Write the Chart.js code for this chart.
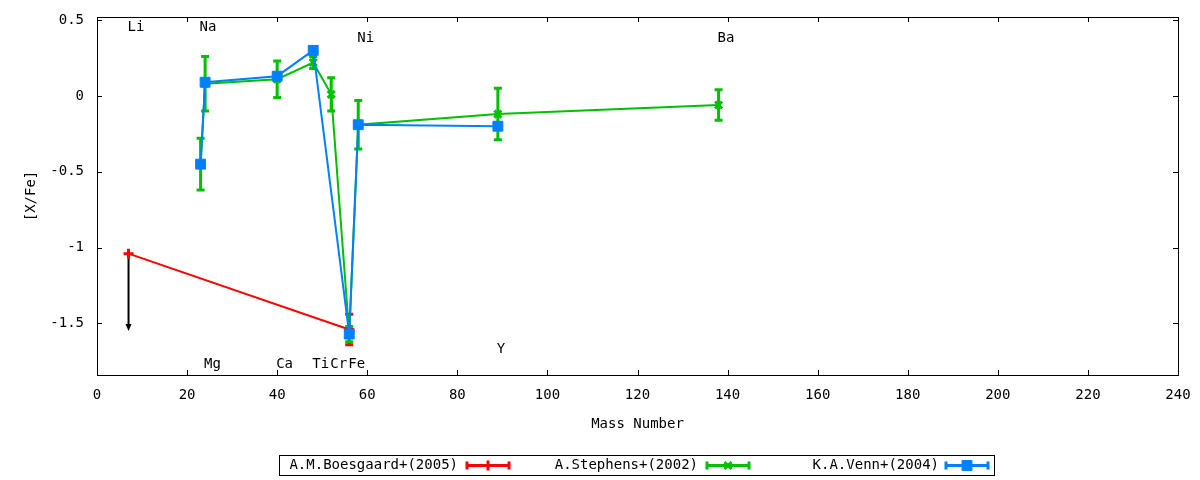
<!DOCTYPE html>
<html>
<head>
<meta charset="utf-8">
<script src="https://cdn.jsdelivr.net/npm/chart.js@4.4.1/dist/chart.umd.min.js"></script>
<style>
  html, body { margin: 0; padding: 0; background: #fff; }
  #box { width: 1200px; height: 480px; }
</style>
</head>
<body>
<div id="box"><canvas id="abund"></canvas></div>
<script>
// [X/Fe] against mass number, three studies
const boesMass = [7, 56];
const boesVal = [-1.04, -1.54];
const boesErr = [0, 0.10];

const stepMass = [23, 24, 40, 48, 52, 56, 58, 89, 138];
const stepVal = [-0.45, 0.08, 0.11, 0.22, 0.01, -1.57, -0.19, -0.12, -0.06];
const stepErr = [0.17, 0.18, 0.12, 0.04, 0.11, 0.05, 0.16, 0.17, 0.10];

const vennMass = [23, 24, 40, 48, 56, 58, 89];
const vennVal = [-0.45, 0.09, 0.13, 0.30, -1.57, -0.19, -0.20];

// Li upper limit arrow
const limitMass = [7];
const limitFrom = [-1.04];
const limitTo = [-1.55];

// element names drawn in the plot
const elemNames = ["Li", "Na", "Mg", "Ca", "Ti", "Cr", "Fe", "Ni", "Y", "Ba"];
const elemMass = [7, 23, 24, 40, 48, 52, 56, 58, 89, 138];
const elemY = [0.45, 0.45, -1.77, -1.77, -1.77, -1.77, -1.77, 0.38, -1.67, 0.38];

const xTicks = [0, 20, 40, 60, 80, 100, 120, 140, 160, 180, 200, 220, 240];
const yTicks = [-1.5, -1, -0.5, 0, 0.5];

const FONT = "'DejaVu Sans Mono', monospace";
Chart.defaults.font.family = FONT;
Chart.defaults.font.size = 14;
Chart.defaults.color = "#000";

function pts(xs, ys) {
    return xs.map(function (x, i) { return { x: x, y: ys[i] }; });
}

// error bars, drawn under the lines
const errorBars = {
    id: "errorBars",
    beforeDatasetsDraw: function (chart) {
        const ctx = chart.ctx;
        const xs = chart.scales.x, ys = chart.scales.y;
        ctx.save();
        // upper limit arrow
        ctx.strokeStyle = "#000";
        ctx.fillStyle = "#000";
        ctx.lineWidth = 2;
        limitMass.forEach(function (m, i) {
            const px = xs.getPixelForValue(m);
            const y1 = ys.getPixelForValue(limitFrom[i]);
            const y2 = ys.getPixelForValue(limitTo[i]);
            ctx.beginPath();
            ctx.moveTo(px, y1);
            ctx.lineTo(px, y2 - 5);
            ctx.stroke();
            ctx.beginPath();
            ctx.moveTo(px - 3, y2 - 7);
            ctx.lineTo(px + 3, y2 - 7);
            ctx.lineTo(px, y2);
            ctx.closePath();
            ctx.fill();
        });
        chart.data.datasets.forEach(function (ds) {
            if (!ds.errs) return;
            ctx.strokeStyle = ds.borderColor;
            ctx.lineWidth = 3;
            ds.data.forEach(function (p, i) {
                const e = ds.errs[i];
                if (!e) return;
                const px = xs.getPixelForValue(p.x);
                const t = ys.getPixelForValue(p.y + e);
                const b = ys.getPixelForValue(p.y - e);
                ctx.beginPath();
                ctx.moveTo(px, t); ctx.lineTo(px, b);
                ctx.moveTo(px - 4, t); ctx.lineTo(px + 4, t);
                ctx.moveTo(px - 4, b); ctx.lineTo(px + 4, b);
                ctx.stroke();
            });
        });
        ctx.restore();
    }
};

// frame, inward ticks, element names and key
const decor = {
    id: "decor",
    afterDraw: function (chart) {
        const ctx = chart.ctx;
        const a = chart.chartArea;
        const xs = chart.scales.x, ys = chart.scales.y;
        ctx.save();
        ctx.strokeStyle = "#000";
        ctx.lineWidth = 1;
        ctx.strokeRect(Math.round(a.left) + 0.5, Math.round(a.top) + 0.5,
            Math.round(a.right - a.left), Math.round(a.bottom - a.top));
        ctx.beginPath();
        xTicks.forEach(function (v) {
            const px = Math.round(xs.getPixelForValue(v)) + 0.5;
            ctx.moveTo(px, a.bottom); ctx.lineTo(px, a.bottom - 5);
            ctx.moveTo(px, a.top); ctx.lineTo(px, a.top + 5);
        });
        yTicks.forEach(function (v) {
            const py = Math.round(ys.getPixelForValue(v)) + 0.5;
            ctx.moveTo(a.left, py); ctx.lineTo(a.left + 5, py);
            ctx.moveTo(a.right, py); ctx.lineTo(a.right - 5, py);
        });
        ctx.stroke();

        ctx.fillStyle = "#000";
        ctx.font = "14px " + FONT;
        ctx.textAlign = "left";
        ctx.textBaseline = "middle";
        elemNames.forEach(function (n, i) {
            ctx.fillText(n, xs.getPixelForValue(elemMass[i]) - 1, ys.getPixelForValue(elemY[i]));
        });

        // key box
        ctx.strokeRect(279.5, 455.5, 715, 20);
        const keyText = [458, 698, 939];
        const keyLine = [466, 706, 945];
        chart.data.datasets.forEach(function (ds, i) {
            const y = 465.5;
            ctx.fillStyle = "#000";
            ctx.textAlign = "right";
            ctx.fillText(ds.label, keyText[i], y);
            const x0 = keyLine[i], x1 = x0 + 44;
            ctx.strokeStyle = ds.borderColor;
            ctx.fillStyle = ds.backgroundColor;
            ctx.lineWidth = 3;
            ctx.beginPath();
            ctx.moveTo(x0, y); ctx.lineTo(x1, y);
            ctx.moveTo(x0 + 1, y - 4); ctx.lineTo(x0 + 1, y + 4);
            ctx.moveTo(x1 - 1, y - 4); ctx.lineTo(x1 - 1, y + 4);
            ctx.stroke();
            ctx.lineWidth = ds.pointBorderWidth;
            Chart.helpers.drawPoint(ctx, {
                pointStyle: ds.pointStyle, radius: ds.pointRadius,
                borderWidth: ds.pointBorderWidth, rotation: 0
            }, (x0 + x1) / 2, y);
        });
        ctx.restore();
    }
};

new Chart("abund", {
    type: "scatter",
    data: {
        datasets: [
            {
                label: "A.M.Boesgaard+(2005)",
                data: pts(boesMass, boesVal),
                errs: boesErr,
                showLine: true,
                borderColor: "#ff0000",
                backgroundColor: "#ff0000",
                borderWidth: 2,
                pointStyle: "cross",
                pointRadius: 5,
                pointBorderWidth: 3,
                order: 3
            },
            {
                label: "A.Stephens+(2002)",
                data: pts(stepMass, stepVal),
                errs: stepErr,
                showLine: true,
                borderColor: "#00c000",
                backgroundColor: "#00c000",
                borderWidth: 2,
                pointStyle: "crossRot",
                pointRadius: 5,
                pointBorderWidth: 3,
                order: 2
            },
            {
                label: "K.A.Venn+(2004)",
                data: pts(vennMass, vennVal),
                showLine: true,
                borderColor: "#0080ff",
                backgroundColor: "#0080ff",
                borderWidth: 2,
                pointStyle: "rect",
                pointRadius: 7,
                pointBorderWidth: 1,
                order: 1
            }
        ]
    },
    options: {
        responsive: true,
        maintainAspectRatio: false,
        animation: false,
        layout: { padding: { left: 0, right: 22, top: 17, bottom: 0 } },
        plugins: {
            legend: { display: false },
            tooltip: { enabled: false }
        },
        scales: {
            x: {
                type: "linear",
                min: 0,
                max: 240,
                grid: { display: false, drawTicks: false, tickLength: 0 },
                border: { display: false },
                afterBuildTicks: function (s) { s.ticks = xTicks.map(function (v) { return { value: v }; }); },
                afterFit: function (s) {
                    s.height = 105;
                    s.paddingLeft = 0;
                    s.paddingRight = 0;
                },
                ticks: {
                    padding: 12,
                    maxRotation: 0,
                    autoSkip: false,
                    callback: function (v) { return String(v); }
                },
                title: {
                    display: true,
                    text: "Mass Number",
                    padding: { top: 0, bottom: 47 }
                }
            },
            y: {
                type: "linear",
                min: -1.84,
                max: 0.52,
                grid: { display: false, drawTicks: false, tickLength: 0 },
                border: { display: false },
                afterBuildTicks: function (s) { s.ticks = yTicks.map(function (v) { return { value: v }; }); },
                afterFit: function (s) {
                    s.width = 97;
                    s.paddingTop = 0;
                    s.paddingBottom = 0;
                },
                ticks: {
                    padding: 13,
                    autoSkip: false,
                    callback: function (v) { return String(v); }
                },
                title: {
                    display: true,
                    text: "[X/Fe]",
                    padding: { top: 23, bottom: 0 }
                }
            }
        }
    },
    plugins: [errorBars, decor]
});
</script>
</body>
</html>
